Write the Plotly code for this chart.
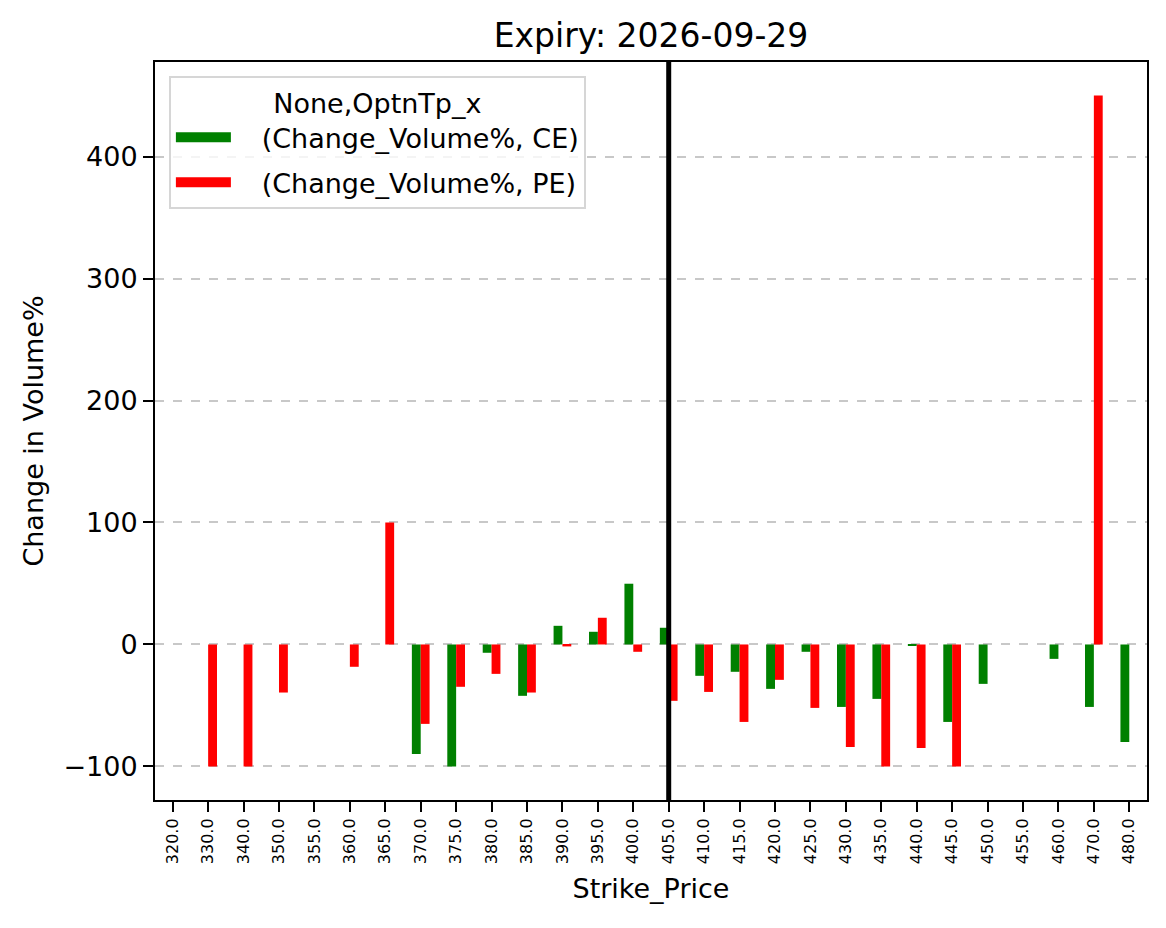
import plotly.graph_objects as go

strikes = ["320.0", "330.0", "340.0", "350.0", "355.0", "360.0", "365.0", "370.0",
           "375.0", "380.0", "385.0", "390.0", "395.0", "400.0", "405.0", "410.0",
           "415.0", "420.0", "425.0", "430.0", "435.0", "440.0", "445.0", "450.0",
           "455.0", "460.0", "470.0", "480.0"]

ce_change = [None, None, None, None, None, None, None, -89.7,
             -100.0, -6.8, -42.1, 15.3, 10.4, 49.8, 13.7, -25.7,
             -22.4, -36.4, -6.0, -51.2, -44.6, -0.5, -63.5, -32.3,
             None, -11.8, -51.2, -79.9]

pe_change = [None, -100.0, -100.0, -39.4, None, -18.3, 100.0, -65.1,
             -34.7, -24.1, -39.4, -1.6, 21.9, -6.0, -46.2, -38.9,
             -63.5, -29.0, -52.0, -84.0, -100.0, -84.8, -100.0, None,
             None, None, 450.0, None]

spot_strike = "405.0"
y_ticks = [-100, 0, 100, 200, 300, 400]
y_tick_text = ["\u2212100", "0", "100", "200", "300", "400"]

series = [("(Change_Volume%, CE)", ce_change, "#008000", "ce"),
          ("(Change_Volume%, PE)", pe_change, "#ff0000", "pe")]

FONT = "DejaVu Sans"
PAD = "\u00a0\u00a0\u00a0"

# page body has an 8px default margin; compensate so the figure fills 1166x928
W, H = 1158, 920
L, R, T, B = 147, 19, 54, 128

fig = go.Figure()
for name, vals, color, grp in series:
    fig.add_trace(go.Bar(x=strikes, y=vals, name=name, legendgroup=grp,
                         showlegend=False,
                         marker=dict(color=color, line=dict(width=0))))
# legend-only entries drawn as wide rectangular swatches (matplotlib-style patches)
for name, vals, color, grp in series:
    fig.add_trace(go.Scatter(x=[None], y=[None], mode="lines", name=PAD + name,
                             legendgroup=grp, showlegend=True, hoverinfo="skip",
                             line=dict(color=color, width=20)))

spot_idx = strikes.index(spot_strike)
fig.add_shape(type="line", xref="x", yref="paper", x0=spot_idx, x1=spot_idx,
              y0=0, y1=1, line=dict(color="black", width=5), layer="above")

fig.update_layout(
    width=W, height=H,
    paper_bgcolor="white", plot_bgcolor="white",
    margin=dict(l=L, r=R, t=T, b=B),
    barmode="group", bargap=0.5, bargroupgap=0,
    font=dict(family=FONT, color="black", size=27),
    title=dict(text="Expiry: 2026-09-29", x=643 / W, xanchor="center",
               y=1 - 27 / H, yanchor="middle", font=dict(size=33, family=FONT)),
    legend=dict(
        x=0.014, y=0.981, xanchor="left", yanchor="top",
        bgcolor="rgba(255,255,255,0.8)", bordercolor="#d6d6d6", borderwidth=2,
        title=dict(text="None,OptnTp_x", side="top center", font=dict(size=27)),
        font=dict(size=27), itemwidth=55, tracegroupgap=7,
    ),
    showlegend=True,
)

fig.update_xaxes(
    type="category", categoryorder="array", categoryarray=strikes,
    range=[-0.5, len(strikes) - 0.5],
    showline=True, linecolor="black", linewidth=2, mirror=True,
    ticks="outside", ticklen=10, tickwidth=2, tickcolor="black",
    tickangle=-90, tickfont=dict(size=16, family=FONT),
    showgrid=False,
    title=dict(text="Strike_Price", font=dict(size=27), standoff=16),
)
fig.update_yaxes(
    range=[-127.5, 477.5],
    tickvals=y_ticks, ticktext=y_tick_text,
    showline=True, linecolor="black", linewidth=2, mirror=True,
    ticks="outside", ticklen=10, tickwidth=2, tickcolor="black",
    tickfont=dict(size=27, family=FONT),
    showgrid=True, gridcolor="#c8c8c8", griddash="dash", gridwidth=1.5,
    zeroline=False,
    title=dict(text="Change in Volume%", font=dict(size=27), standoff=12),
)

fig.write_html("out.html")
